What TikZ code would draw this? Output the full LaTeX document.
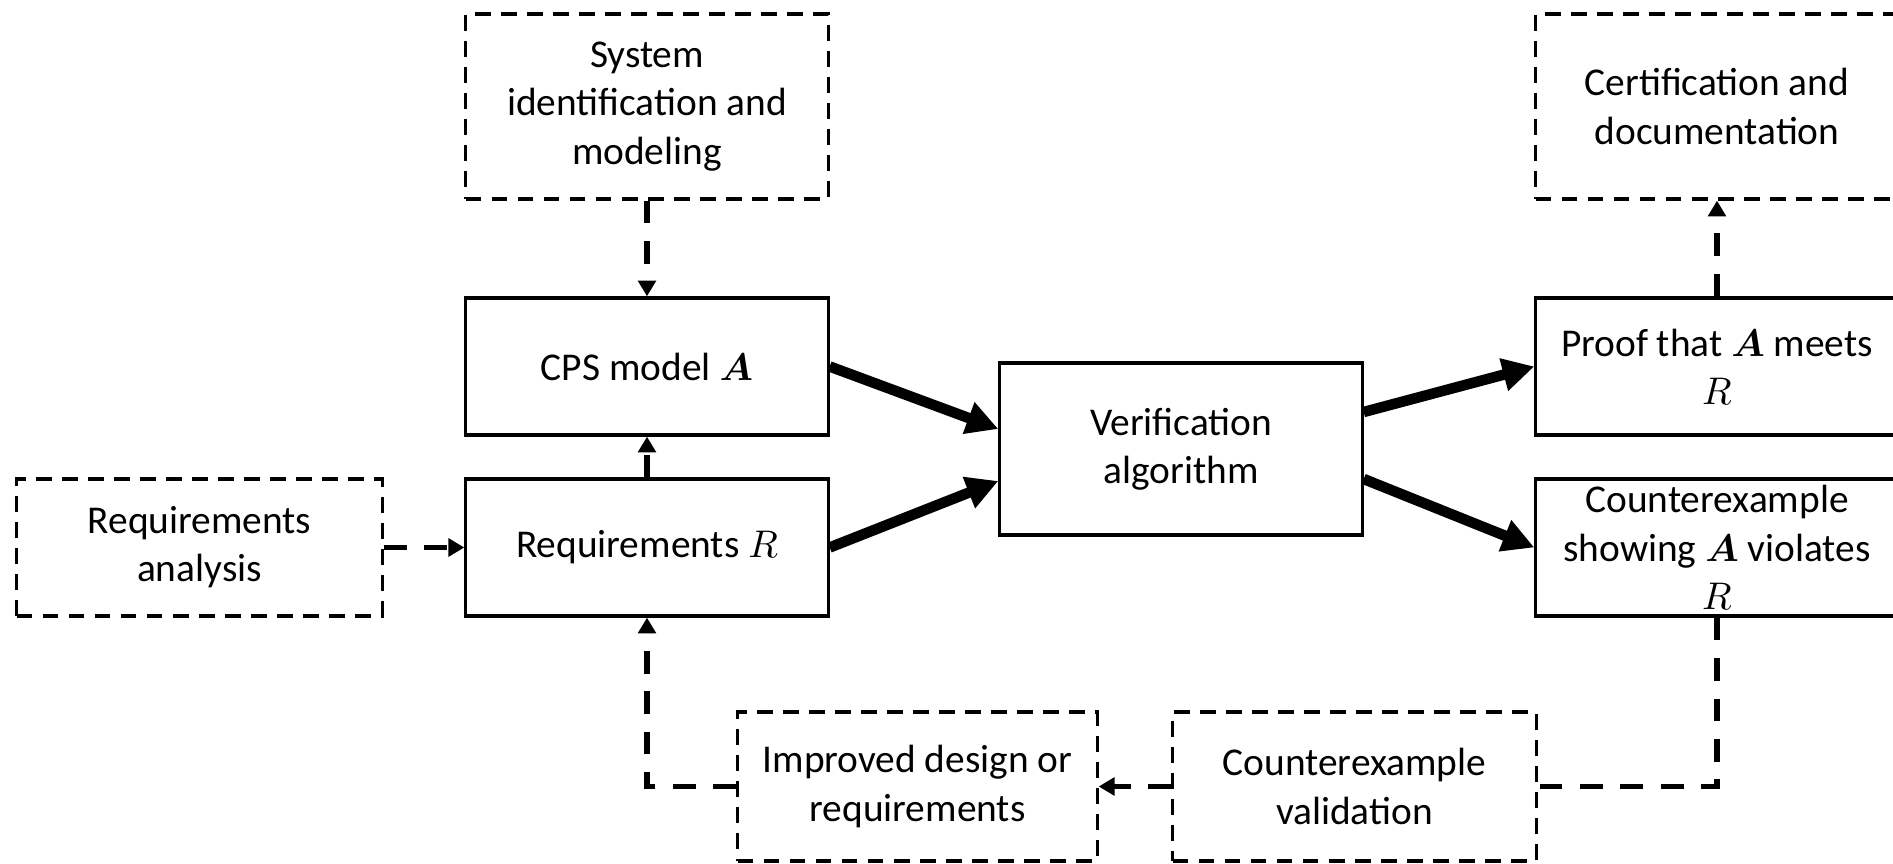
\documentclass[tikz,border=0pt]{standalone}
\usepackage{amsmath,amssymb}
\usepackage{fontspec}
\setmainfont{Carlito}
\usepackage{tikz}
\usetikzlibrary{arrows.meta,calc}
\tikzset{
  stageBox/.style={
    rectangle,
    draw=black,
    line width=0.9pt,
    minimum width=3.62cm,
    minimum height=1.37cm,
    inner sep=0pt,
    align=center,
    font=\fontsize{11.2}{13.7}\selectfont
  },
  outerBox/.style={
    stageBox,
    line width=0.9pt,
    dash pattern=on 4.4pt off 3pt
  },
  mainArrow/.style={
    -{Triangle[length=9pt,width=9pt]},
    line width=3pt
  },
  loopArrow/.style={
    -{Triangle[length=4.5pt,width=5pt]},
    line width=1.5pt,
    dash pattern=on 6.5pt off 5pt
  },
  loopLine/.style={
    line width=1.5pt,
    dash pattern=on 6.5pt off 5pt
  }
}

\begin{document}
\begin{tikzpicture}[x=0.01cm,y=-0.01cm]
  \useasboundingbox (0,0) rectangle (1893,864);
  \node[outerBox,minimum height=1.85cm] (sysid) at (647,106.5) {System\\identification and\\modeling};
  \node[stageBox] (cpsModel) at (647,366.5) {CPS model $\boldsymbol{A}$};
  \node[stageBox] (reqs) at (647,547.5) {Requirements $R$};
  \node[outerBox,minimum width=3.65cm] (reqAnalysis) at (199.5,547.5) {Requirements\\analysis};
  \node[stageBox,minimum height=1.72cm] (verif) at (1181,449) {Verification\\algorithm};
  \node[stageBox] (proof) at (1717,366.5) {Proof that $\boldsymbol{A}$ meets\\$R$};
  \node[stageBox] (counterEx) at (1717,547.5) {Counterexample\\showing $\boldsymbol{A}$ violates\\$R$};
  \node[outerBox,minimum height=1.85cm] (cert) at (1717,106.5) {Certification and\\documentation};
  \node[outerBox,minimum width=3.59cm,minimum height=1.49cm] (improved) at (917.5,786.5) {Improved design or\\requirements};
  \node[outerBox,minimum width=3.63cm,minimum height=1.49cm] (ceValid) at (1354.5,786.5) {Counterexample\\validation};
  \draw[loopArrow] (sysid.south) -- (cpsModel.north);
  \draw[loopArrow] (reqs.north) -- (cpsModel.south);
  \draw[loopArrow] (reqAnalysis.east) -- (reqs.west);
  \draw[mainArrow] (cpsModel.east) -- ($(verif.west)+(0,-20)$);
  \draw[mainArrow] (reqs.east) -- ($(verif.west)+(0,32)$);
  \draw[mainArrow] ($(verif.east)+(0,-37)$) -- (proof.west);
  \draw[mainArrow] ($(verif.east)+(0,30)$) -- (counterEx.west);
  \draw[loopArrow] (proof.north) -- (cert.south);
  \draw[loopLine] (counterEx.south) |- (ceValid.east);
  \draw[loopArrow] (ceValid.west) -- (improved.east);
  \draw[loopArrow] (improved.west) -| (reqs.south);
\end{tikzpicture}
\end{document}
